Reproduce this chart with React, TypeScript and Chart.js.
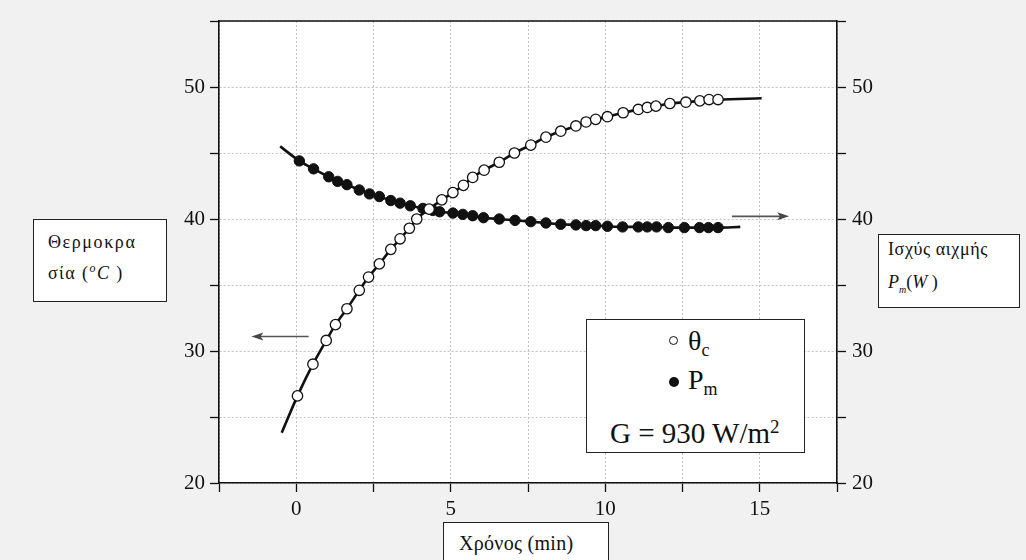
import React, { useEffect, useRef } from "react";
import { Chart, registerables } from "chart.js";

Chart.register(...registerables);

// Time (min) and temperature θc (°C) of the measured points
const thetaTime = [0.04, 0.54, 0.97, 1.27, 1.64, 2.04, 2.34, 2.69, 3.06, 3.36, 3.66, 3.9, 4.3, 4.71, 5.07, 5.41, 5.71, 6.08, 6.57, 7.06, 7.59, 8.08, 8.56, 9.05, 9.38, 9.69, 10.07, 10.58, 11.07, 11.36, 11.64, 12.09, 12.61, 13.06, 13.36, 13.65];
const thetaValues = [26.6, 29.0, 30.8, 32.0, 33.2, 34.6, 35.6, 36.6, 37.7, 38.5, 39.3, 40.0, 40.75, 41.45, 42.0, 42.55, 43.15, 43.7, 44.3, 45.0, 45.6, 46.2, 46.65, 47.05, 47.35, 47.55, 47.75, 48.05, 48.3, 48.45, 48.55, 48.75, 48.85, 48.95, 49.05, 49.05];
// Fitted curve end points for θc (start, end)
const thetaCurveEndsTime = [-0.47, 15.06];
const thetaCurveEndsValues = [23.8, 49.15];

// Time (min) and peak power Pm (W)
const powerTime = [0.1, 0.56, 1.05, 1.34, 1.64, 2.04, 2.37, 2.69, 3.06, 3.36, 3.69, 4.1, 4.42, 4.64, 5.07, 5.39, 5.71, 6.06, 6.57, 7.08, 7.59, 8.08, 8.56, 9.05, 9.38, 9.69, 10.07, 10.56, 11.07, 11.36, 11.66, 12.04, 12.56, 13.05, 13.34, 13.65];
const powerValues = [44.4, 43.8, 43.2, 42.85, 42.6, 42.2, 41.9, 41.7, 41.4, 41.2, 41.0, 40.8, 40.65, 40.55, 40.45, 40.35, 40.25, 40.1, 40.0, 39.9, 39.8, 39.7, 39.6, 39.55, 39.5, 39.5, 39.45, 39.4, 39.4, 39.4, 39.4, 39.35, 39.35, 39.35, 39.35, 39.35];
const powerCurveEndsTime = [-0.52, 14.37];
const powerCurveEndsValues = [45.5, 39.4];

// Axis ranges and labelled ticks
const xMin = -2.5;
const xMax = 17.5;
const xStep = 2.5;
const xLabelled = [0, 5, 10, 15];
const yMin = 20;
const yMax = 55;
const yStep = 5;
const yLabelled = [20, 30, 40, 50];

// Annotation arrows (in data units): [x from, x to, y]
const leftArrow = [0.4, -1.45, 31.1];
const rightArrow = [14.1, 15.95, 40.2];

const serif = "'Liberation Serif', 'Times New Roman', serif";

function pts(t: number[], v: number[]) {
  return t.map((x, i) => ({ x, y: v[i] }));
}
function curve(t: number[], v: number[], endsT: number[], endsV: number[]) {
  return [{ x: endsT[0], y: endsV[0] }, ...pts(t, v), { x: endsT[1], y: endsV[1] }];
}

const framePlugin = {
  id: "frame",
  beforeDraw(chart: any) {
    const { ctx, chartArea: a, width, height } = chart;
    ctx.save();
    ctx.fillStyle = "#f1f1f1";
    ctx.fillRect(0, 0, width, height);
    ctx.fillStyle = "#ffffff";
    ctx.fillRect(a.left, a.top, a.right - a.left, a.bottom - a.top);
    ctx.restore();
  },
  afterDraw(chart: any) {
    const { ctx, chartArea: a, scales } = chart;
    ctx.save();
    ctx.strokeStyle = "#111";
    ctx.lineWidth = 1.5;
    ctx.beginPath();
    ctx.moveTo(a.left, a.top);
    ctx.lineTo(a.right, a.top);
    ctx.stroke();
    const xs = scales.x;
    const ys = scales.y;
    const drawArrow = (arr: number[]) => {
      const x1 = xs.getPixelForValue(arr[0]);
      const x2 = xs.getPixelForValue(arr[1]);
      const y = ys.getPixelForValue(arr[2]);
      const dir = Math.sign(x2 - x1);
      ctx.strokeStyle = "#555";
      ctx.fillStyle = "#444";
      ctx.lineWidth = 1.6;
      ctx.beginPath();
      ctx.moveTo(x1, y);
      ctx.lineTo(x2 - dir * 8, y);
      ctx.stroke();
      ctx.beginPath();
      ctx.moveTo(x2, y);
      ctx.lineTo(x2 - dir * 12, y - 4);
      ctx.lineTo(x2 - dir * 9, y);
      ctx.lineTo(x2 - dir * 12, y + 4);
      ctx.closePath();
      ctx.fill();
    };
    drawArrow(leftArrow);
    drawArrow(rightArrow);
    ctx.restore();
  },
};

export default function App() {
  const canvasRef = useRef<HTMLCanvasElement | null>(null);

  useEffect(() => {
    const canvas = canvasRef.current;
    if (!canvas) return;
    const tickFont = { family: serif, size: 21 };
    const gridCommon = {
      color: "#c2c2c2",
      lineWidth: 1,
      tickColor: "#111",
      tickLength: 9,
      tickWidth: 1.3,
    };
    const borderCommon = { color: "#111", width: 1.6, dash: [2, 2] };
    const chart = new Chart(canvas, {
      type: "line",
      data: {
        datasets: [
          {
            label: "θc points",
            data: pts(thetaTime, thetaValues),
            yAxisID: "y",
            showLine: false,
            pointRadius: 5.2,
            pointBackgroundColor: "#ffffff",
            pointBorderColor: "#111",
            pointBorderWidth: 1.3,
            order: 0,
          },
          {
            label: "Pm points",
            data: pts(powerTime, powerValues),
            yAxisID: "y2",
            showLine: false,
            pointRadius: 5.2,
            pointBackgroundColor: "#111",
            pointBorderColor: "#111",
            pointBorderWidth: 1,
            order: 0,
          },
          {
            label: "θc curve",
            data: curve(thetaTime, thetaValues, thetaCurveEndsTime, thetaCurveEndsValues),
            yAxisID: "y",
            borderColor: "#111",
            borderWidth: 2.6,
            pointRadius: 0,
            cubicInterpolationMode: "monotone",
            fill: false,
            order: 1,
          },
          {
            label: "Pm curve",
            data: curve(powerTime, powerValues, powerCurveEndsTime, powerCurveEndsValues),
            yAxisID: "y2",
            borderColor: "#111",
            borderWidth: 2.6,
            pointRadius: 0,
            cubicInterpolationMode: "monotone",
            fill: false,
            order: 1,
          },
        ],
      },
      options: {
        animation: false,
        responsive: false,
        layout: { padding: { left: 0, right: 0, top: 21, bottom: 0 } },
        plugins: { legend: { display: false }, tooltip: { enabled: false } },
        scales: {
          x: {
            type: "linear",
            min: xMin,
            max: xMax,
            afterFit: (s: any) => {
              s.height = 77;
            },
            ticks: {
              stepSize: xStep,
              autoSkip: false,
              maxRotation: 0,
              padding: 5,
              color: "#111",
              font: tickFont,
              callback: (v: any) => (xLabelled.includes(Number(v)) ? String(v) : ""),
            },
            grid: gridCommon,
            border: borderCommon,
          },
          y: {
            type: "linear",
            position: "left",
            min: yMin,
            max: yMax,
            afterFit: (s: any) => {
              s.width = 219;
            },
            ticks: {
              stepSize: yStep,
              autoSkip: false,
              padding: 5,
              color: "#111",
              font: tickFont,
              callback: (v: any) => (yLabelled.includes(Number(v)) ? String(v) : ""),
            },
            grid: gridCommon,
            border: borderCommon,
          },
          y2: {
            type: "linear",
            position: "right",
            min: yMin,
            max: yMax,
            afterFit: (s: any) => {
              s.width = 189;
            },
            ticks: {
              stepSize: yStep,
              autoSkip: false,
              padding: 6,
              color: "#111",
              font: tickFont,
              callback: (v: any) => (yLabelled.includes(Number(v)) ? String(v) : ""),
            },
            grid: { ...gridCommon, drawOnChartArea: false },
            border: borderCommon,
          },
        },
      },
      plugins: [framePlugin],
    } as any);
    return () => chart.destroy();
  }, []);

  const boxBase: React.CSSProperties = {
    position: "absolute",
    boxSizing: "border-box",
    background: "#ffffff",
    border: "1px solid #222",
    fontFamily: serif,
    color: "#111",
  };

  return (
    <div style={{ position: "fixed", left: 0, top: 0, width: 1026, height: 560, overflow: "hidden" }}>
      <canvas ref={canvasRef} width={1026} height={560} style={{ width: 1026, height: 560, display: "block" }} />

      {/* Left axis title */}
      <div style={{ ...boxBase, left: 33, top: 219, width: 134, height: 83, fontSize: 18 }}>
        <div style={{ position: "absolute", left: 14, top: 12, letterSpacing: 1.6, whiteSpace: "nowrap" }}>Θερμοκρα</div>
        <div style={{ position: "absolute", left: 14, top: 41, letterSpacing: 1.4, whiteSpace: "nowrap" }}>
          σία (<sup style={{ fontSize: 12, fontStyle: "italic" }}>o</sup>
          <i>C</i> )
        </div>
      </div>

      {/* Right axis title */}
      <div style={{ ...boxBase, left: 878, top: 234, width: 142, height: 74, fontSize: 18 }}>
        <div style={{ position: "absolute", left: 9, top: 4, letterSpacing: 0.6, whiteSpace: "nowrap" }}>Ισχύς αιχμής</div>
        <div style={{ position: "absolute", left: 9, top: 37, whiteSpace: "nowrap" }}>
          <i>P</i>
          <sub style={{ fontSize: 10, fontStyle: "italic" }}>m</sub>
          (<i>W</i> )
        </div>
      </div>

      {/* X axis title */}
      <div style={{ ...boxBase, left: 443, top: 522, width: 166, height: 60, fontSize: 20 }}>
        <div style={{ position: "absolute", left: 15, top: 9, letterSpacing: 0.3, whiteSpace: "nowrap" }}>Χρόνος (min)</div>
      </div>

      {/* Legend */}
      <div style={{ ...boxBase, left: 586, top: 319, width: 219, height: 134, border: "1.5px solid #222", fontSize: 28 }}>
        <div
          style={{
            position: "absolute",
            left: 82,
            top: 16,
            width: 9,
            height: 9,
            borderRadius: "50%",
            border: "1.2px solid #111",
            boxSizing: "border-box",
          }}
        />
        <div style={{ position: "absolute", left: 101, top: 4, whiteSpace: "nowrap", lineHeight: "34px" }}>
          θ<sub style={{ fontSize: 18, verticalAlign: "-6px" }}>c</sub>
        </div>
        <div
          style={{
            position: "absolute",
            left: 82,
            top: 57,
            width: 10,
            height: 10,
            borderRadius: "50%",
            background: "#111",
          }}
        />
        <div style={{ position: "absolute", left: 101, top: 43, whiteSpace: "nowrap", lineHeight: "34px" }}>
          P<sub style={{ fontSize: 18, verticalAlign: "-6px" }}>m</sub>
        </div>
        <div style={{ position: "absolute", left: 23, top: 90, whiteSpace: "nowrap", lineHeight: "34px", fontSize: 29 }}>
          G = 930 W/m<sup style={{ fontSize: 19, verticalAlign: "10px" }}>2</sup>
        </div>
      </div>
    </div>
  );
}
